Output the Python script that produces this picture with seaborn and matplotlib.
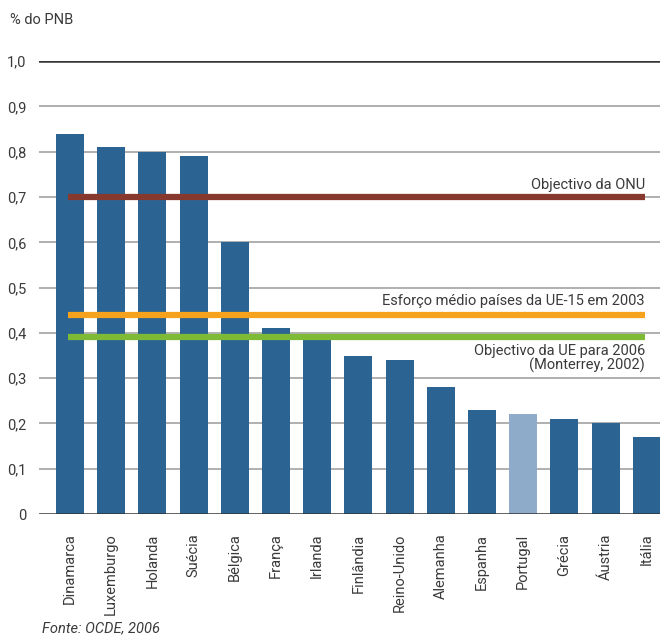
import matplotlib
matplotlib.use("Agg")
import matplotlib.pyplot as plt
import seaborn as sns
import pandas as pd

countries = ["Dinamarca", "Luxemburgo", "Holanda", "Suécia", "Bélgica", "França",
             "Irlanda", "Finlândia", "Reino-Unido", "Alemanha", "Espanha", "Portugal",
             "Grécia", "Áustria", "Itália"]
values = [0.84, 0.81, 0.80, 0.79, 0.60, 0.41, 0.39, 0.35, 0.34, 0.28, 0.23, 0.22,
          0.21, 0.20, 0.17]
ref_levels = [0.70, 0.44, 0.39]
ref_labels = ["Objectivo da ONU", "Esforço médio países da UE-15 em 2003",
              "Objectivo da UE para 2006\n(Monterrey, 2002)"]
ref_colors = ["#87392d", "#f6a21c", "#7fba36"]
yticks = [0.0, 0.1, 0.2, 0.3, 0.4, 0.5, 0.6, 0.7, 0.8, 0.9, 1.0]
ytick_labels = ["0", "0,1", "0,2", "0,3", "0,4", "0,5", "0,6", "0,7", "0,8", "0,9", "1,0"]

sns.set_style("white")
plt.rcParams["font.family"] = ["Roboto", "DejaVu Sans"]

main_color = "#2b6493"
portugal_color = "#8eabc9"
palette = {c: (portugal_color if c == "Portugal" else main_color) for c in countries}

df = pd.DataFrame({"pais": countries, "valor": values})

fig = plt.figure(figsize=(6.67, 6.37), dpi=100)
ax = fig.add_axes([0.0585, 0.193, 0.931, 0.711])

sns.barplot(data=df, x="pais", y="valor", hue="pais", palette=palette,
            legend=False, width=0.68, saturation=1, ax=ax, linewidth=0)
for p in ax.patches:
    p.set_zorder(2)
    p.set_linewidth(0)

for y in yticks:
    if y in (0.0, 1.0):
        ax.axhline(y, color="#333333", lw=1.8, zorder=3)
    else:
        ax.axhline(y, color="#9a9a9a", lw=1.1, zorder=0.5)

ax.set_xlim(-0.75, 14.32)
ax.set_ylim(0, 1.0)
for lvl, col in zip(ref_levels, ref_colors):
    ax.plot([-0.05, 13.95], [lvl, lvl], color=col, lw=4.5, solid_capstyle="butt", zorder=4)

txtc = "#3a3a3a"
fs = 10.5
ax.text(13.95, 0.712, ref_labels[0], ha="right", va="bottom", fontsize=fs, color=txtc)
ax.text(13.95, 0.454, ref_labels[1], ha="right", va="bottom", fontsize=fs, color=txtc)
ax.text(13.95, 0.376, ref_labels[2], ha="right", va="top", fontsize=fs, color=txtc,
        linespacing=1.0)

ax.set_yticks(yticks)
ax.set_yticklabels(ytick_labels, fontsize=fs, color=txtc)
ax.tick_params(axis="y", length=0, pad=9)
ax.tick_params(axis="x", length=0, pad=14)
ax.set_xticks(range(len(countries)))
ax.set_xticklabels(countries, rotation=90, fontsize=fs, color=txtc, va="top", ha="center")
ax.set_xlabel("")
ax.set_ylabel("")
for s in ax.spines.values():
    s.set_visible(False)

fig.text(10 / 667, 1 - 20 / 637, "% do PNB", fontsize=fs, color=txtc, va="center")
fig.text(42 / 667, 1 - 628 / 637, "Fonte: OCDE, 2006", fontsize=fs, color=txtc,
         va="center", style="italic")

fig.savefig("out.png", dpi=100)
